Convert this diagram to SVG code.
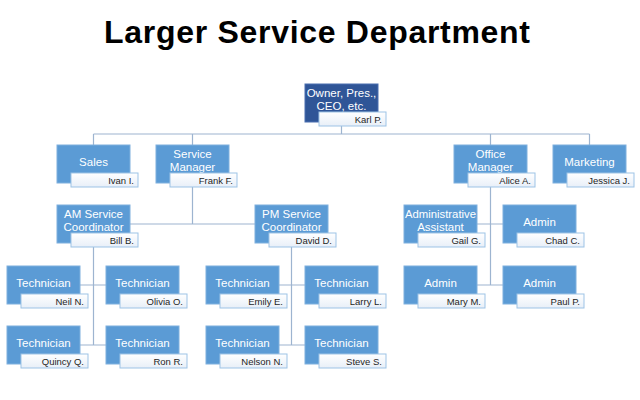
<svg xmlns="http://www.w3.org/2000/svg" width="640" height="400" viewBox="0 0 640 400">
<defs>
<linearGradient id="lg" x1="0" y1="0" x2="0" y2="1">
<stop offset="0" stop-color="#FFFFFF"/>
<stop offset="1" stop-color="#E8EFF8"/>
</linearGradient>
</defs>
<style>
.box{fill:#5B9BD5;stroke:#7FB0DE;stroke-width:1}
.top{fill:#2F5597;stroke:#4A6FB0;stroke-width:1}
.lbl{fill:url(#lg);stroke:#9DC3E6;stroke-width:1}
.t{font-family:"Liberation Sans",Arial,sans-serif;font-size:11.5px;fill:#FFFFFF;text-anchor:middle}
.n{font-family:"Liberation Sans",Arial,sans-serif;font-size:9.5px;fill:#1F1F1F;text-anchor:end}
.c{stroke:#9DB4D0;stroke-width:1.2;fill:none}
.title{font-family:"Liberation Sans",Arial,sans-serif;font-size:32px;font-weight:bold;fill:#000;text-anchor:middle}
</style>
<rect width="640" height="400" fill="#FFFFFF"/>
<text class="title" x="317" y="43" textLength="426" lengthAdjust="spacing">Larger Service Department</text>
<g id="connectors">
<path class="c" d="M341.5 122V134M93.5 134H589.5M93.5 134V145M192.5 134V145M490.5 134V145M589.5 134V145"/>
<path class="c" d="M192.5 183V224M130 224H255"/>
<path class="c" d="M93.5 243V345M80 285H106M80 345H106"/>
<path class="c" d="M291.5 243V345M279 285H305M279 345H305"/>
<path class="c" d="M490.5 183V285M477 224H503M477 285H503"/>
</g>
<g id="owner"><rect class="top" x="305" y="84" width="73" height="38"/><text class="t" x="341.5" y="97">Owner, Pres.,</text><text class="t" x="341.5" y="110">CEO, etc.</text><rect class="lbl" x="319" y="112" width="67" height="14"/><text class="n" x="382" y="123">Karl P.</text></g>
<g id="sales"><rect class="box" x="57" y="145" width="73" height="38"/><text class="t" x="93.5" y="166">Sales</text><rect class="lbl" x="71" y="173" width="67" height="14"/><text class="n" x="134" y="184">Ivan I.</text></g>
<g id="service-manager"><rect class="box" x="156" y="145" width="73" height="38"/><text class="t" x="192.5" y="158">Service</text><text class="t" x="192.5" y="171">Manager</text><rect class="lbl" x="170" y="173" width="67" height="14"/><text class="n" x="233" y="184">Frank F.</text></g>
<g id="office-manager"><rect class="box" x="454" y="145" width="73" height="38"/><text class="t" x="490.5" y="158">Office</text><text class="t" x="490.5" y="171">Manager</text><rect class="lbl" x="468" y="173" width="67" height="14"/><text class="n" x="531" y="184">Alice A.</text></g>
<g id="marketing"><rect class="box" x="553" y="145" width="73" height="38"/><text class="t" x="589.5" y="166">Marketing</text><rect class="lbl" x="567" y="173" width="67" height="14"/><text class="n" x="630" y="184">Jessica J.</text></g>
<g id="am-coord"><rect class="box" x="57" y="205" width="73" height="38"/><text class="t" x="93.5" y="218">AM Service</text><text class="t" x="93.5" y="231">Coordinator</text><rect class="lbl" x="71" y="233" width="67" height="14"/><text class="n" x="134" y="244">Bill B.</text></g>
<g id="pm-coord"><rect class="box" x="255" y="205" width="73" height="38"/><text class="t" x="291.5" y="218">PM Service</text><text class="t" x="291.5" y="231">Coordinator</text><rect class="lbl" x="269" y="233" width="67" height="14"/><text class="n" x="332" y="244">David D.</text></g>
<g id="admin-assistant"><rect class="box" x="404" y="205" width="73" height="38"/><text class="t" x="440.5" y="218" textLength="71" lengthAdjust="spacingAndGlyphs">Administrative</text><text class="t" x="440.5" y="231">Assistant</text><rect class="lbl" x="418" y="233" width="67" height="14"/><text class="n" x="481" y="244">Gail G.</text></g>
<g id="admin-chad"><rect class="box" x="503" y="205" width="73" height="38"/><text class="t" x="539.5" y="226">Admin</text><rect class="lbl" x="517" y="233" width="67" height="14"/><text class="n" x="580" y="244">Chad C.</text></g>
<g id="admin-mary"><rect class="box" x="404" y="266" width="73" height="38"/><text class="t" x="440.5" y="287">Admin</text><rect class="lbl" x="418" y="294" width="67" height="14"/><text class="n" x="481" y="305">Mary M.</text></g>
<g id="admin-paul"><rect class="box" x="503" y="266" width="73" height="38"/><text class="t" x="539.5" y="287">Admin</text><rect class="lbl" x="517" y="294" width="67" height="14"/><text class="n" x="580" y="305">Paul P.</text></g>
<g id="tech-neil"><rect class="box" x="7" y="266" width="73" height="38"/><text class="t" x="43.5" y="287">Technician</text><rect class="lbl" x="21" y="294" width="67" height="14"/><text class="n" x="84" y="305">Neil N.</text></g>
<g id="tech-olivia"><rect class="box" x="106" y="266" width="73" height="38"/><text class="t" x="142.5" y="287">Technician</text><rect class="lbl" x="120" y="294" width="67" height="14"/><text class="n" x="183" y="305">Olivia O.</text></g>
<g id="tech-quincy"><rect class="box" x="7" y="326" width="73" height="38"/><text class="t" x="43.5" y="347">Technician</text><rect class="lbl" x="21" y="354" width="67" height="14"/><text class="n" x="84" y="365">Quincy Q.</text></g>
<g id="tech-ron"><rect class="box" x="106" y="326" width="73" height="38"/><text class="t" x="142.5" y="347">Technician</text><rect class="lbl" x="120" y="354" width="67" height="14"/><text class="n" x="183" y="365">Ron R.</text></g>
<g id="tech-emily"><rect class="box" x="206" y="266" width="73" height="38"/><text class="t" x="242.5" y="287">Technician</text><rect class="lbl" x="220" y="294" width="67" height="14"/><text class="n" x="283" y="305">Emily E.</text></g>
<g id="tech-larry"><rect class="box" x="305" y="266" width="73" height="38"/><text class="t" x="341.5" y="287">Technician</text><rect class="lbl" x="319" y="294" width="67" height="14"/><text class="n" x="382" y="305">Larry L.</text></g>
<g id="tech-nelson"><rect class="box" x="206" y="326" width="73" height="38"/><text class="t" x="242.5" y="347">Technician</text><rect class="lbl" x="220" y="354" width="67" height="14"/><text class="n" x="283" y="365">Nelson N.</text></g>
<g id="tech-steve"><rect class="box" x="305" y="326" width="73" height="38"/><text class="t" x="341.5" y="347">Technician</text><rect class="lbl" x="319" y="354" width="67" height="14"/><text class="n" x="382" y="365">Steve S.</text></g>
</svg>
